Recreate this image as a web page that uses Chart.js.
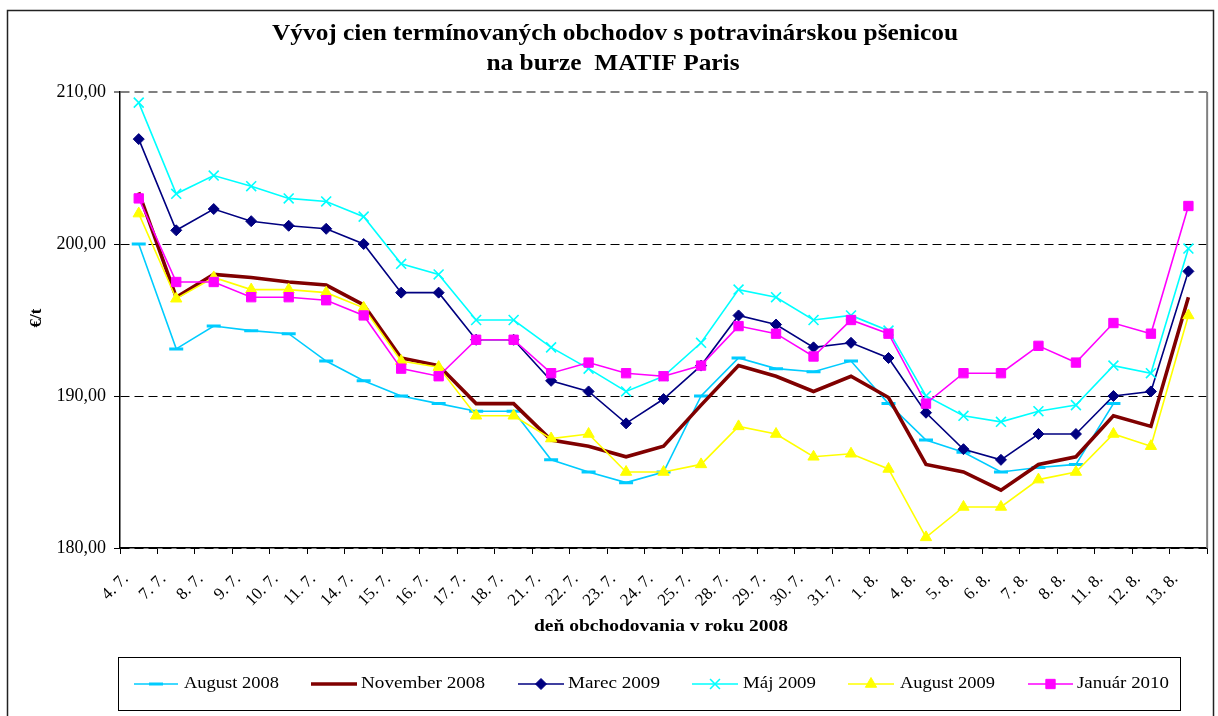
<!DOCTYPE html>
<html>
<head>
<meta charset="utf-8">
<script src="https://cdn.jsdelivr.net/npm/chart.js@4.4.1/dist/chart.umd.min.js"></script>
<style>
  html, body { margin: 0; padding: 0; background: #fff; }
  canvas { display: block; }
</style>
</head>
<body>
<canvas id="c" width="1218" height="716"></canvas>
<script>
// ---- data ----
const categories = ['4. 7.', '7. 7.', '8. 7.', '9. 7.', '10. 7.', '11. 7.', '14. 7.', '15. 7.', '16. 7.', '17. 7.',
  '18. 7.', '21. 7.', '22. 7.', '23. 7.', '24. 7.', '25. 7.', '28. 7.', '29. 7.', '30. 7.', '31. 7.',
  '1. 8.', '4. 8.', '5. 8.', '6. 8.', '7. 8.', '8. 8.', '11. 8.', '12. 8.', '13. 8.'];

const august2008 = [200.0, 193.1, 194.6, 194.3, 194.1, 192.3, 191.0, 190.0, 189.5, 189.0,
  189.0, 185.8, 185.0, 184.3, 185.0, 190.0, 192.5, 191.8, 191.6, 192.3,
  189.5, 187.1, 186.3, 185.0, 185.3, 185.5, 189.5, null, null];
const november2008 = [203.4, 196.5, 198.0, 197.8, 197.5, 197.3, 196.0, 192.5, 192.0, 189.5,
  189.5, 187.1, 186.7, 186.0, 186.7, 189.4, 192.0, 191.3, 190.3, 191.3,
  189.9, 185.5, 185.0, 183.8, 185.5, 186.0, 188.7, 188.0, 196.5];
const marec2009 = [206.9, 200.9, 202.3, 201.5, 201.2, 201.0, 200.0, 196.8, 196.8, 193.7,
  193.7, 191.0, 190.3, 188.2, 189.8, 192.0, 195.3, 194.7, 193.2, 193.5,
  192.5, 188.9, 186.5, 185.8, 187.5, 187.5, 190.0, 190.3, 198.2];
const maj2009 = [209.3, 203.3, 204.5, 203.8, 203.0, 202.8, 201.8, 198.7, 198.0, 195.0,
  195.0, 193.2, 191.8, 190.3, 191.3, 193.5, 197.0, 196.5, 195.0, 195.3,
  194.3, 190.0, 188.7, 188.3, 189.0, 189.4, 192.0, 191.5, 199.7];
const august2009 = [202.0, 196.4, 197.8, 197.0, 197.0, 196.8, 195.8, 192.3, 191.9, 188.7,
  188.7, 187.2, 187.5, 185.0, 185.0, 185.5, 188.0, 187.5, 186.0, 186.2,
  185.2, 180.7, 182.7, 182.7, 184.5, 185.0, 187.5, 186.7, 195.3];
const januar2010 = [203.0, 197.5, 197.5, 196.5, 196.5, 196.3, 195.3, 191.8, 191.3, 193.7,
  193.7, 191.5, 192.2, 191.5, 191.3, 192.0, 194.6, 194.1, 192.6, 195.0,
  194.1, 189.5, 191.5, 191.5, 193.3, 192.2, 194.8, 194.1, 202.5];

const seriesNames = ['August 2008', 'November 2008', 'Marec 2009', 'Máj 2009', 'August 2009', 'Január 2010'];
const yTicks = [180, 190, 200, 210];
const titleLines = ['Vývoj cien termínovaných obchodov s potravinárskou pšenicou', 'na burze  MATIF Paris'];
const xTitle = 'deň obchodovania v roku 2008';
const yTitle = '€/t';

// ---- styles ----
const SERIF = "'Liberation Serif', 'Times New Roman', serif";
const styles = [
  {color: '#00CCFF', width: 1.6, point: 'line', radius: 7, pbw: 3},
  {color: '#800000', width: 3.6, point: false, radius: 0, pbw: 0},
  {color: '#000080', width: 1.6, point: 'rectRot', radius: 5.5, pbw: 1},
  {color: '#00FFFF', width: 1.6, point: 'crossRot', radius: 7, pbw: 1.6},
  {color: '#FFFF00', width: 1.6, point: 'triangle', radius: 6.5, pbw: 1},
  {color: '#FF00FF', width: 1.6, point: 'rect', radius: 6.6, pbw: 1}
];
const seriesData = [august2008, november2008, marec2009, maj2009, august2009, januar2010];

const datasets = seriesData.map((d, i) => ({
  label: seriesNames[i],
  data: d,
  borderColor: styles[i].color,
  backgroundColor: styles[i].color,
  borderWidth: styles[i].width,
  pointStyle: styles[i].point,
  pointRadius: styles[i].radius,
  pointBorderWidth: styles[i].pbw,
  pointBorderColor: styles[i].color,
  pointBackgroundColor: styles[i].color,
  pointHoverRadius: styles[i].radius,
  tension: 0,
  spanGaps: false,
  order: 6 - i
}));

function stretchedText(ctx, text, x, y, font, targetWidth, align) {
  ctx.save();
  ctx.font = font;
  const w = ctx.measureText(text).width;
  const s = targetWidth ? targetWidth / w : 1;
  ctx.translate(x, y);
  ctx.scale(s, 1);
  ctx.textAlign = align || 'center';
  ctx.textBaseline = 'middle';
  ctx.fillText(text, 0, 0);
  ctx.restore();
}

function drawMarker(ctx, st, x, y) {
  ctx.save();
  ctx.fillStyle = st.color;
  ctx.strokeStyle = st.color;
  ctx.lineWidth = st.pbw;
  const r = st.radius;
  ctx.beginPath();
  if (st.point === 'line') {
    ctx.moveTo(x - r, y); ctx.lineTo(x + r, y); ctx.stroke();
  } else if (st.point === 'rectRot') {
    ctx.moveTo(x, y - r); ctx.lineTo(x + r, y); ctx.lineTo(x, y + r); ctx.lineTo(x - r, y); ctx.closePath();
    ctx.fill(); ctx.stroke();
  } else if (st.point === 'crossRot') {
    const o = r * Math.SQRT1_2;
    ctx.moveTo(x - o, y - o); ctx.lineTo(x + o, y + o);
    ctx.moveTo(x + o, y - o); ctx.lineTo(x - o, y + o); ctx.stroke();
  } else if (st.point === 'triangle') {
    ctx.moveTo(x, y - r); ctx.lineTo(x + r * 0.866, y + r / 2); ctx.lineTo(x - r * 0.866, y + r / 2); ctx.closePath();
    ctx.fill(); ctx.stroke();
  } else if (st.point === 'rect') {
    const h = r * Math.SQRT1_2;
    ctx.rect(x - h, y - h, 2 * h, 2 * h); ctx.fill(); ctx.stroke();
  }
  ctx.restore();
}

const decor = {
  id: 'decor',
  beforeDraw(chart) {
    const ctx = chart.ctx;
    ctx.save();
    ctx.fillStyle = '#fff';
    ctx.fillRect(0, 0, chart.width, chart.height);
    // outer frame
    ctx.strokeStyle = '#222';
    ctx.lineWidth = 1.5;
    ctx.strokeRect(7.5, 10.5, 1206, 720);
    ctx.restore();
  },
  afterDraw(chart) {
    const ctx = chart.ctx;
    const a = chart.chartArea;
    ctx.save();
    // right border of plot
    ctx.strokeStyle = '#808080';
    ctx.lineWidth = 2;
    ctx.beginPath();
    ctx.moveTo(a.right, a.top); ctx.lineTo(a.right, a.bottom); ctx.stroke();
    ctx.fillStyle = '#000';
    // title
    stretchedText(ctx, titleLines[0], 615, 34, 'bold 23px ' + SERIF, 686);
    ctx.font = 'bold 23px ' + SERIF;
    const w0 = ctx.measureText(titleLines[0]).width;
    const w1 = ctx.measureText(titleLines[1]).width;
    stretchedText(ctx, titleLines[1], 613, 64, 'bold 23px ' + SERIF, w1 * 686 / w0);
    // axis titles
    stretchedText(ctx, xTitle, 661, 627, 'bold 16px ' + SERIF, 254);
    ctx.save();
    ctx.translate(37, 318);
    ctx.rotate(-Math.PI / 2);
    ctx.font = 'bold 17px ' + SERIF;
    ctx.textAlign = 'center';
    ctx.textBaseline = 'middle';
    ctx.fillText(yTitle, 0, 0);
    ctx.restore();
    // legend box
    ctx.strokeStyle = '#000';
    ctx.lineWidth = 1;
    ctx.strokeRect(118.5, 657.5, 1062, 53);
    const ly = 684;
    const items = [
      {x0: 134, x1: 178, tx: 184, tw: 95},
      {x0: 311, x1: 357, tx: 361, tw: 124},
      {x0: 518, x1: 564, tx: 568, tw: 92},
      {x0: 692, x1: 738, tx: 743, tw: 73},
      {x0: 848, x1: 894, tx: 900, tw: 95},
      {x0: 1028, x1: 1073, tx: 1077, tw: 92}
    ];
    items.forEach((it, i) => {
      const st = styles[i];
      ctx.save();
      ctx.strokeStyle = st.color;
      ctx.lineWidth = st.width;
      ctx.beginPath();
      ctx.moveTo(it.x0, ly); ctx.lineTo(it.x1, ly); ctx.stroke();
      ctx.restore();
      if (st.point) drawMarker(ctx, st, (it.x0 + it.x1) / 2, ly);
      ctx.fillStyle = '#000';
      stretchedText(ctx, seriesNames[i], it.tx, ly, '17px ' + SERIF, it.tw, 'left');
    });
    ctx.restore();
  }
};

new Chart(document.getElementById('c'), {
  type: 'line',
  data: { labels: categories, datasets: datasets },
  plugins: [decor],
  options: {
    responsive: false,
    animation: false,
    devicePixelRatio: 1,
    layout: { padding: { top: 92, right: 10, bottom: 0, left: 0 } },
    plugins: {
      legend: { display: false },
      title: { display: false },
      tooltip: { enabled: false }
    },
    elements: { line: { tension: 0 } },
    scales: {
      x: {
        type: 'category',
        offset: true,
        afterFit(scale) { scale.height = 168; },
        grid: { offset: true, drawOnChartArea: false, drawTicks: true, tickLength: 6, color: '#000', tickWidth: 1 },
        border: { display: true, color: '#000', width: 1.5 },
        ticks: {
          autoSkip: false, minRotation: 45, maxRotation: 45,
          color: '#000', font: { family: SERIF, size: 17 },
          labelOffset: -13, padding: 15
        }
      },
      y: {
        min: 180, max: 210,
        afterFit(scale) { scale.width = 120; },
        afterBuildTicks(scale) { scale.ticks = yTicks.map(v => ({value: v})); },
        grid: {
          color: (c) => c.tick && c.tick.value === 210 ? '#808080' : '#000',
          lineWidth: (c) => c.tick && c.tick.value === 210 ? 2 : 1,
          drawTicks: true, tickLength: 6, tickColor: '#000', tickWidth: 1
        },
        border: { display: true, color: '#000', width: 1.5, dash: [9, 5] },
        ticks: {
          color: '#000', font: { family: SERIF, size: 18 }, padding: 8,
          callback: (v) => v.toFixed(2).replace('.', ',')
        }
      }
    }
  }
});
</script>
</body>
</html>
